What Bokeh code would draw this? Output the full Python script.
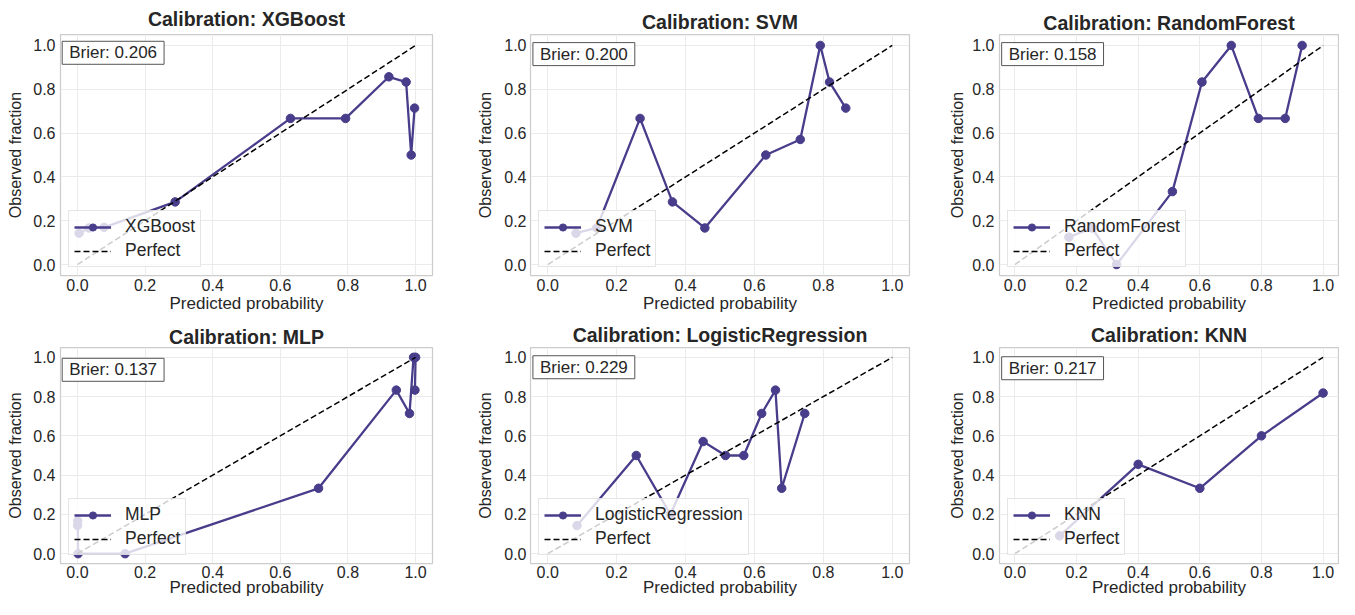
from bokeh.plotting import figure
from bokeh.layouts import row, column
from bokeh.models import Range1d, FixedTicker, PrintfTickFormatter, Label
from bokeh.embed import file_html
from bokeh.resources import INLINE

# ---------------- data ----------------
models = ["XGBoost", "SVM", "RandomForest", "MLP", "LogisticRegression", "KNN"]
brier_scores = [0.206, 0.200, 0.158, 0.137, 0.229, 0.217]

xgb_pred = [0.005, 0.034, 0.079, 0.289, 0.630, 0.793, 0.921, 0.972, 0.987, 0.997]
xgb_true = [0.143, 0.167, 0.170, 0.286, 0.667, 0.667, 0.857, 0.833, 0.500, 0.714]

svm_pred = [0.082, 0.142, 0.268, 0.362, 0.456, 0.633, 0.733, 0.791, 0.818, 0.865]
svm_true = [0.143, 0.167, 0.667, 0.286, 0.167, 0.500, 0.571, 1.000, 0.833, 0.714]

rf_pred = [0.175, 0.250, 0.330, 0.511, 0.607, 0.702, 0.790, 0.877, 0.932]
rf_true = [0.125, 0.167, 0.000, 0.333, 0.833, 1.000, 0.667, 0.667, 1.000]

mlp_pred = [0.0005, 0.001, 0.002, 0.141, 0.713, 0.943, 0.982, 0.994, 1.000, 0.998]
mlp_true = [0.143, 0.167, 0.000, 0.000, 0.333, 0.833, 0.714, 1.000, 1.000, 0.833]

lr_pred = [0.085, 0.257, 0.356, 0.451, 0.516, 0.569, 0.621, 0.661, 0.679, 0.746]
lr_true = [0.143, 0.500, 0.200, 0.571, 0.500, 0.500, 0.714, 0.833, 0.333, 0.714]

knn_pred = [0.145, 0.400, 0.600, 0.800, 1.000]
knn_true = [0.091, 0.455, 0.333, 0.600, 0.818]

perfect_x = [0.0, 1.0]
perfect_y = [0.0, 1.0]
tick_values = [0.0, 0.2, 0.4, 0.6, 0.8, 1.0]

preds = [xgb_pred, svm_pred, rf_pred, mlp_pred, lr_pred, knn_pred]
trues = [xgb_true, svm_true, rf_true, mlp_true, lr_true, knn_true]

# ---------------- style ----------------
FONT = "Liberation Sans"
PURPLE = "#483D8B"
TXT = "#262626"
# (width, height, border_left, border_right, border_top, border_bottom,
#  title_standoff, ytick_standoff, ylabel_standoff, xtick_standoff,
#  xlabel_standoff, brier_x, brier_y)
GEOM = [
    (460, 318, 60, 28, 34, 43, 9, 5, 6, 3, 0, -0.045, 1.019),
    (465, 318, 70, 16, 34, 43, 3, 4, 7, 3, 0, -0.043, 1.013),
    (414, 318, 74, 1, 34, 43, 2, 5, 3, 3, 0, -0.043, 1.013),
    (460, 281, 60, 28, 29, 36, 0, 5, 6, 2, -3, -0.045, 0.995),
    (465, 281, 70, 16, 29, 36, 4, 4, 7, 2, -3, -0.043, 1.008),
    (414, 281, 74, 1, 29, 36, 4, 5, 3, 2, -3, -0.043, 1.003),
]


def make_panel(name, pred, true, score, geo):
    (w, h, bl, br, bt, bb, ts, yts, yls, xts, xls, bx, by) = geo
    p = figure(width=w, height=h,
               x_range=Range1d(-0.05, 1.05), y_range=Range1d(-0.05, 1.05),
               output_backend="svg", toolbar_location=None,
               title=f"Calibration: {name}",
               min_border_left=bl, min_border_right=br,
               min_border_top=bt, min_border_bottom=bb)
    p.background_fill_color = "white"
    p.border_fill_color = "white"
    p.outline_line_color = "#cccccc"
    p.outline_line_width = 1.25

    p.title.text_font = FONT
    p.title.text_font_size = "19.5px"
    p.title.text_font_style = "bold"
    p.title.text_color = TXT
    p.title.align = "center"
    p.title.standoff = ts

    p.line(pred, true, line_color=PURPLE, line_width=2.3, legend_label=name)
    p.scatter(pred, true, size=8.5, fill_color=PURPLE, line_color=PURPLE,
              legend_label=name)
    p.line(perfect_x, perfect_y, line_color="black", line_width=1.5,
           line_dash="6 3", legend_label="Perfect")

    for ax in (p.xaxis[0], p.yaxis[0]):
        ax.ticker = FixedTicker(ticks=tick_values)
        ax.formatter = PrintfTickFormatter(format="%.1f")
        ax.axis_line_color = None
        ax.major_tick_line_color = None
        ax.minor_tick_line_color = None
        ax.major_tick_out = 0
        ax.major_tick_in = 0
        ax.major_label_text_font = FONT
        ax.major_label_text_font_size = "16px"
        ax.major_label_text_color = TXT
        ax.axis_label_text_font = FONT
        ax.axis_label_text_font_style = "normal"
        ax.axis_label_text_color = TXT
    p.xaxis.axis_label = "Predicted probability"
    p.yaxis.axis_label = "Observed fraction"
    p.xaxis.axis_label_text_font_size = "17px"
    p.yaxis.axis_label_text_font_size = "16px"
    p.xaxis.major_label_standoff = xts
    p.xaxis.axis_label_standoff = xls
    p.yaxis.major_label_standoff = yts
    p.yaxis.axis_label_standoff = yls

    p.grid.grid_line_color = "#ebebeb"
    p.grid.grid_line_width = 1

    lg = p.legend[0]
    lg.location = "bottom_left"
    lg.margin = 8
    lg.padding = 5
    lg.spacing = 3
    lg.glyph_width = 37
    lg.glyph_height = 18
    lg.label_height = 18
    lg.label_standoff = 14
    lg.label_text_font = FONT
    lg.label_text_font_size = "17.5px"
    lg.label_text_color = TXT
    lg.border_line_color = "#cccccc"
    lg.border_line_width = 1
    lg.background_fill_color = "white"
    lg.background_fill_alpha = 0.8

    lab = Label(x=bx, y=by, x_units="data", y_units="data",
                text=f"Brier: {score:.3f}", text_align="left", text_baseline="top",
                text_font=FONT, text_font_size="17px", text_color=TXT,
                background_fill_color="white", background_fill_alpha=1.0,
                border_line_color="#555555", border_line_width=1,
                padding=(7, 2))
    p.add_layout(lab)
    return p


panels = [make_panel(m, pr, tr, b, g)
          for m, pr, tr, b, g in zip(models, preds, trues, brier_scores, GEOM)]

layout = column(row(panels[0], panels[1], panels[2]),
                row(panels[3], panels[4], panels[5]))

open("out.html", "w").write(file_html(layout, INLINE))
